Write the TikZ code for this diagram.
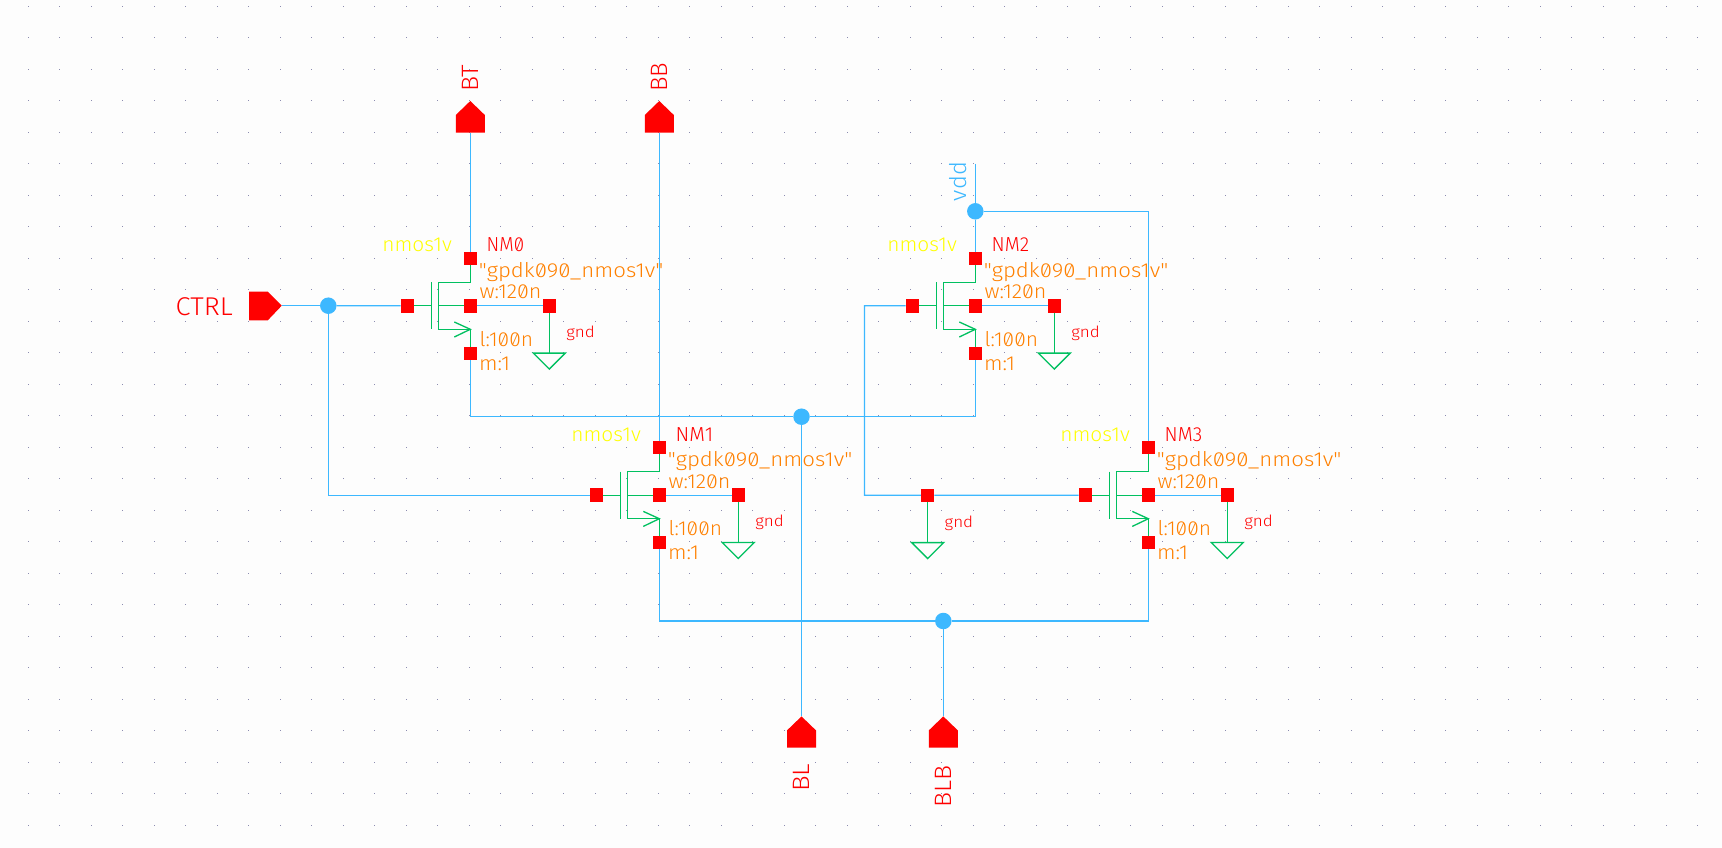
\documentclass[tikz,border=0pt]{standalone}
\usepackage{fontspec}
\usepackage{graphicx}
\setmainfont{Fira Sans}
\newfontfamily\vecfont[RawFeature=+zero]{Fira Sans Light}
\definecolor{bgc}{HTML}{FDFDFD}
\definecolor{griddot}{HTML}{8C8CB0}
\definecolor{wirec}{HTML}{3DB8FF}
\definecolor{devc}{HTML}{00C060}
\definecolor{labc}{HTML}{FF0000}
\definecolor{parc}{HTML}{FF8000}
\definecolor{cellc}{HTML}{FFFF00}
\tikzset{
  x=1pt,y=-1pt,
  wire/.style={draw=wirec,line width=1.3pt},
  dev/.style={draw=devc,line width=1.3pt},
  pinbox/.style={rectangle,fill=labc,draw=none,minimum width=13.5pt,minimum height=13.5pt,inner sep=0pt,outer sep=0pt},
  junction/.style={circle,fill=wirec,draw=none,minimum size=16.5pt,inner sep=0pt,outer sep=0pt},
  lab/.style={inner sep=0pt,outer sep=0pt,anchor=base west},
}
% text of a fixed width: \fit{width}{size}{text}
\newcommand\fit[3]{\resizebox{#1pt}{\height}{\fontsize{#2}{#2}\vecfont #3}}
% name, drain x, drain y, instance text
\newcommand\mosfet[4]{%
  \node[pinbox] (#1d) at (#2,#3) {};
  \node[pinbox] (#1s) at (#2,#3+95) {};
  \node[pinbox] (#1b) at (#2,#3+47.5) {};
  \node[pinbox] (#1g) at (#2-63,#3+47.5) {};
  \node[pinbox] (#1p) at (#2+79,#3+47.5) {};
  \coordinate (#1bar) at (#2-39,#3+47.5);
  \coordinate (#1ch) at (#2-32,#3+47.5);
  \coordinate (#1tip) at (#2,#3+71);
  \draw[dev] (#2-39,#3+24) -- (#2-39,#3+71);
  \draw[dev] (#1g) -- (#1bar);
  \draw[dev] (#1ch) -- (#1b);
  \draw[dev] (#1d) -- (#2,#3+24) -- (#2-32,#3+24) -- (#2-32,#3+71) -- (#1tip) -- (#1s);
  \draw[dev] (#2-16,#3+63.7) -- (#1tip) -- (#2-16,#3+78.7);
  \draw[wire] (#1b) -- (#1p);
  \node[lab,text=labc] (#1n) at (#2+16.4,#3-6.6) {\fit{37.5}{20.3}{#4}};
  \node[lab,text=parc] (#1m) at (#2+8.5,#3+18.7) {\fit{184.5}{20.3}{"gpdk090\_nmos1v"}};
  \node[lab,text=parc] (#1w) at (#2+9.2,#3+40.4) {\fit{62}{20.3}{w:120n}};
  \node[lab,text=parc] (#1l) at (#2+9.2,#3+87.7) {\fit{53.5}{20.3}{l:100n}};
  \node[lab,text=parc] (#1f) at (#2+8.7,#3+111.7) {\fit{31}{20.3}{m:1}};
  \node[lab,text=cellc] (#1c) at (#2-88,#3-6.6) {\fit{69.5}{20.3}{nmos1v}};
  \groundsym{#1}{#2+79}{#3+47.5}
}
% name (pin node already exists as #1p), x, y of pin
\newcommand\groundsym[3]{%
  \coordinate (#1gt) at (#2,#3+47.3);
  \draw[dev] (#1p) -- (#1gt);
  \draw[dev] (#2-16,#3+47.3) -- (#2+16,#3+47.3) -- (#2,#3+63.3) -- cycle;
  \node[lab,text=labc] (#1gl) at (#2+17,#3+31.7) {\fit{28.5}{15.5}{gnd}};
}
\newcommand\pinup[1]{%
  \fill[labc] (#1) ++(-14.5,0) -- ++(0,-17.7) -- ++(14.5,-14) -- ++(14.5,14) -- ++(0,17.7) -- cycle;
}
\newcommand\pinupfromtip[1]{%
  \fill[labc] (#1) -- ++(14.5,14) -- ++(0,17.3) -- ++(-29,0) -- ++(0,-17.3) -- cycle;
}
\begin{document}
\begin{tikzpicture}
\useasboundingbox (0,0) rectangle (1722,848);
\fill[bgc] (0,0) rectangle (1722,848);
% grid
\foreach \i in {0,...,53}{
  \foreach \j in {0,...,26}{
    \fill[griddot] ({28.3+31.5*\i-0.5},{6.3+31.5*\j-0.5}) rectangle ++(1,1);
  }
}
\mosfet{nma}{470.3}{258.3}{NM0}
\mosfet{nmb}{659.3}{447.7}{NM1}
\mosfet{nmc}{975.3}{258.3}{NM2}
\mosfet{nmd}{1148.3}{447.7}{NM3}
% lone ground pin
\node[pinbox] (gxp) at (927.7,495.3) {};
\groundsym{gx}{927.7}{495.3}
% pins
\coordinate (bt) at (470.3,132.7);
\coordinate (bb) at (659.3,132.7);
\coordinate (bl) at (801.5,716.4);
\coordinate (blb) at (943.3,716.4);
\coordinate (ctrl) at (281.7,305.7);
\coordinate (vddtop) at (975.3,164);
% junctions
\node[junction] (ja) at (328.3,305.7) {};
\node[junction] (jb) at (801.5,416.7) {};
\node[junction] (jc) at (975.3,211.3) {};
\node[junction] (jd) at (943.3,621) {};
% wires
\draw[wire] (bt) -- (nmad);
\draw[wire] (bb) -- (nmbd);
\draw[wire] (ctrl) -- (ja);
\draw[wire] (ja) -- (nmag);
\draw[wire] (ja) |- (nmbg);
\draw[wire] (nmas) |- (jb);
\draw[wire] (jb) -| (nmcs);
\draw[wire] (jb) -- (bl);
\draw[wire] (vddtop) -- (jc);
\draw[wire] (jc) -- (nmcd);
\draw[wire] (jc) -| (nmdd);
\draw[wire] (nmcg) -- (864.5,305.7) -- (864.5,495.2) -- (gxp);
\draw[wire] (gxp) -- (nmdg);
\draw[wire] (nmbs) |- (jd);
\draw[wire] (jd) -| (nmds);
\draw[wire] (jd) -- (blb);
% port shapes
\pinup{bt}
\pinup{bb}
\pinupfromtip{bl}
\pinupfromtip{blb}
\fill[labc] (ctrl) -- ++(-14,-14) -- ++(-18.7,0) -- ++(0,28.7) -- ++(18.7,0) -- cycle;
% port labels
\node[lab,text=labc] (lctrl) at (175.7,315) {\fit{57}{25.7}{CTRL}};
\node[lab,text=labc,rotate=90] (lbt) at (478.7,91.7) {\fit{27}{23.7}{BT}};
\node[lab,text=labc,rotate=90] (lbb) at (667.7,91.7) {\fit{29}{23.7}{BB}};
\node[lab,text=labc,rotate=90] (lbl) at (809.7,791.7) {\fit{28}{23.7}{BL}};
\node[lab,text=labc,rotate=90] (lblb) at (951.7,807.7) {\fit{42}{23.7}{BLB}};
\node[lab,text=wirec,rotate=90] (lvdd) at (966,201) {\fit{39}{23}{vdd}};
\end{tikzpicture}
\end{document}
